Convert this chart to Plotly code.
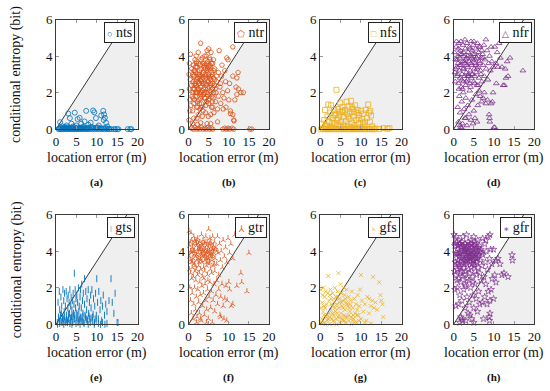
import plotly.graph_objects as go
from plotly.subplots import make_subplots

# ---------------- data (location error m, conditional entropy bit) ----------------
series_names = ["nts", "ntr", "nfs", "nfr", "gts", "gtr", "gfs", "gfr"]
panel_labels = ["(a)", "(b)", "(c)", "(d)", "(e)", "(f)", "(g)", "(h)"]
colors = ["#0072BD", "#D95319", "#EDB120", "#7E2F8E", "#0072BD", "#D95319", "#EDB120", "#7E2F8E"]
legend_glyphs = ["○", "⬠", "□", "△", "ǀ", "⅄", "×", "∗"]

x_ticks = [0, 5, 10, 15, 20]
y_ticks = [0, 2, 4, 6]
x_range = [0, 20]
y_range = [0, 6]
boundary_x_at_top = 17.4  # reference line reaches y=6 at this location error

nts = [(0.6,0),(0.8,0.05),(1.0,0),(1.2,0.08),(1.4,0),(1.6,0.04),(1.8,0),(2.0,0.08),(2.2,0),(2.4,0.05),
       (2.6,0),(2.8,0.1),(3.0,0),(3.2,0.05),(3.4,0),(3.6,0.08),(3.8,0),(4.0,0.05),(4.2,0),(4.4,0.1),
       (4.6,0),(4.8,0.05),(5.0,0),(5.2,0.08),(5.4,0),(5.6,0.04),(5.8,0),(6.0,0.08),(6.2,0),(6.4,0.05),
       (6.6,0),(6.8,0.1),(7.0,0),(7.2,0.05),(7.4,0),(7.6,0.08),(7.8,0),(8.0,0.05),(8.3,0),(8.6,0.08),
       (8.9,0),(9.2,0.05),(9.5,0),(9.8,0.08),(10.1,0),(10.4,0.05),(10.7,0),(11.0,0.06),(11.3,0),(11.6,0.04),
       (11.9,0),(12.2,0.05),(12.5,0),(12.8,0.03),(13.1,0),(13.5,0),(14.2,0),(14.6,0),(15.0,0),(15.3,0),
       (17.6,0),(18.2,0),(18.5,0),
       (1.0,0.38),(1.6,0.15),(2.2,0.12),(3.0,0.85),(3.4,0.6),(3.8,0.3),(4.6,0.9),(5.3,0.55),(5.8,0.62),
       (6.2,0.3),(7.0,0.42),(7.4,1.0),(7.9,0.25),(8.5,0.35),(9.1,1.02),(9.4,0.92),(9.8,0.6),(10.5,0.2),
       (11.1,0.75),(11.6,1.0),(11.8,0.8),(12.0,0.62),(11.7,0.5),(12.3,0.35),(12.6,0.15),(2.6,0.2),
       (4.2,0.15),(6.6,0.12),(8.8,0.12),(10.2,0.1),(5.0,0.2),(3.0,0.05)]

ntr = [(0.8,0.05),(1.2,0.0),(1.6,0.1),(2.0,0.0),(2.4,0.05),(2.8,0.0),(3.2,0.1),(3.6,0.0),(4.0,0.05),
       (4.4,0.0),(4.8,0.1),(5.2,0.0),(5.6,0.05),(6.0,0.0),(1.0,0.3),(2.2,0.25),(3.0,0.35),(4.6,0.3),
       (5.5,0.3),(8.5,0.0),(9.0,0.05),(9.4,0.0),(9.8,0.05),(10.2,0.0),(10.8,0.05),(11.2,0.0),(15.2,0.0),
       (15.7,0.0),(0.1,3.0),(0.2,2.2),(0.3,1.6),(0.2,3.6),(0.5,4.1),(0.4,2.7),(0.3,1.0),(0.1,0.5),
       (0.8,3.3),(1.0,2.0),(1.1,2.6),(1.2,3.5),(1.3,1.4),(1.4,2.9),(1.5,2.2),(1.6,3.8),(1.7,1.8),
       (1.8,3.1),(1.9,2.4),(2.0,1.2),(2.1,3.4),(2.2,2.0),(2.3,2.8),(2.4,0.8),(2.5,3.6),(2.6,1.6),
       (2.7,2.5),(2.8,3.0),(2.9,1.9),(3.0,4.7),(3.0,2.3),(3.1,3.3),(3.2,1.4),(3.3,2.7),(3.4,3.9),
       (3.5,2.1),(3.6,1.0),(3.7,3.1),(3.8,2.5),(3.9,1.7),(4.0,4.0),(4.0,3.5),(4.1,2.2),(4.2,2.9),
       (4.3,1.3),(4.4,4.0),(4.5,3.2),(4.6,2.0),(4.7,2.6),(4.8,3.7),(4.9,1.6),(5.0,4.4),(5.0,3.0),
       (5.1,2.3),(5.2,3.9),(5.3,1.9),(5.4,3.4),(5.5,2.7),(5.6,4.2),(5.7,1.2),(5.8,3.1),(5.9,2.2),
       (6.0,3.6),(6.1,1.7),(6.2,2.8),(6.3,0.9),(6.4,2.4),(6.5,3.3),(6.7,1.5),(6.8,2.0),(7.0,2.6),
       (7.2,1.1),(7.4,1.8),(7.6,4.3),(7.8,2.3),(8.0,1.4),(1.0,1.0),(1.2,1.7),(1.5,3.2),(1.8,2.6),
       (2.0,3.7),(2.2,1.5),(2.5,2.2),(2.7,3.2),(3.0,1.7),(3.2,2.6),(3.5,3.0),(3.8,1.9),(4.1,3.3),
       (4.4,2.4),(4.7,1.9),(5.0,2.6),(5.3,3.5),(5.6,2.4),(5.9,3.0),(6.2,2.0),(6.5,2.7),(0.7,2.4),
       (0.9,1.8),(1.1,3.0),(1.4,2.4),(1.7,2.0),(2.0,2.7),(2.3,2.2),(2.6,2.9),(2.9,3.5),(3.2,2.0),
       (3.5,2.5),(3.8,3.4),(4.1,1.7),(4.4,2.8),(4.7,3.3),(5.0,1.4),(5.3,2.1),(5.6,2.9),(5.9,1.5),
       (6.2,3.8),(0.6,1.3),(1.3,0.6),(2.1,0.6),(2.8,1.1),(3.4,0.7),(4.2,0.9),(4.9,0.7),(5.5,0.8),
       (6.0,1.2),(1.9,4.0),(2.4,4.2),(4.6,4.3),(5.3,3.8),(8.2,2.9),(8.5,2.0),(8.8,1.7),(9.0,3.2),
       (9.3,1.2),(9.5,3.9),(9.8,3.8),(9.7,2.1),(10.0,1.6),(10.2,2.5),(10.4,1.0),(11.0,4.5),(11.0,0.8),
       (11.2,0.5),(11.0,2.9),(11.5,1.6),(11.8,2.3),(12.0,2.8),(12.3,3.1),(12.4,2.2),(12.0,1.9),
       (13.0,2.0),(13.6,2.0),(7.4,3.1),(7.9,2.5),(8.3,3.5),(8.6,1.1),(9.2,2.6),(7.2,0.4),(10.4,0.85),
       (11.3,0.45),
       (1.1,2.2),(1.3,3.2),(1.6,2.5),(1.9,3.6),(2.1,2.3),(2.4,3.0),(2.6,2.0),(2.9,2.7),(3.1,3.8),
       (3.3,1.8),(3.6,2.8),(3.9,3.6),(4.2,2.5),(4.5,3.6),(4.8,2.2),(5.1,3.3),(5.4,2.5),(5.7,3.6),
       (6.0,2.5),(6.3,3.2),(1.5,1.6),(2.3,1.2),(3.3,1.2),(4.5,1.5),(5.8,1.8),(2.0,2.0),(3.0,2.9),
       (4.0,2.0),(5.0,3.4),(6.6,2.2),(1.2,2.9),(2.7,1.4),(3.7,2.2),(4.9,2.9),(5.2,2.8),(3.6,3.6),
       (2.4,2.6),(4.3,3.0),(1.7,3.4),(6.9,2.9)]

nfs = [(0.5,0.3),(1.0,0.5),(1.2,1.05),(1.5,0.2),(1.8,0.7),(2.0,1.35),(2.2,0.4),(2.5,0.9),(2.7,1.3),
       (2.9,0.15),(3.1,0.6),(3.4,1.05),(3.6,0.3),(3.8,0.8),(4.0,2.15),(4.1,0.5),(4.3,1.1),(4.5,0.2),
       (4.7,0.75),(4.9,1.45),(5.1,0.4),(5.3,0.95),(5.5,1.2),(5.7,0.25),(5.9,0.65),(6.1,1.05),(6.3,0.45),
       (6.5,1.5),(6.6,0.85),(6.8,0.15),(7.0,1.25),(7.2,0.55),(7.4,0.9),(7.6,1.55),(7.8,0.35),(8.0,1.1),
       (8.2,0.7),(8.4,0.2),(8.6,1.3),(8.8,0.5),(9.0,0.9),(9.2,1.05),(9.4,0.3),(9.6,0.75),(9.8,0.1),
       (10.0,1.0),(10.3,0.55),(10.6,0.85),(10.9,0.2),(11.2,1.05),(11.5,0.6),(11.8,1.35),(12.0,0.9),
       (12.2,0.4),(12.5,0.75),(12.8,0.15),(11.0,0.4),(3.0,0.35),(5.0,0.15),(7.5,0.1),(2.3,0.05),
       (6.0,0.1),(8.5,0.05),(1.3,0.15),(9.5,0.6),(4.8,0.95),(6.9,0.7),(3.5,0.75),(8.3,0.95),(10.5,0.35),
       (12.3,1.0),(7.8,1.2),(5.6,1.0),(4.4,0.6),
       (0.3,0),(0.7,0.02),(1.1,0),(1.5,0.03),(1.9,0),(2.3,0),(2.7,0.02),(3.1,0),(3.5,0),(3.9,0.02),
       (4.3,0),(4.7,0),(5.1,0.02),(5.5,0),(5.9,0),(6.3,0.02),(6.7,0),(7.1,0),(7.5,0.02),(7.9,0),(8.3,0),
       (8.7,0.02),(9.1,0),(9.5,0),(9.9,0.02),(10.3,0),(10.7,0),(11.1,0.02),(11.5,0),(11.9,0),(12.3,0.02),
       (12.7,0),(13.1,0),(13.6,0.03),(14.5,0),(15.5,0.05),(16.5,0.02),(17.0,0.05)]

nfr = [(0.2,4.2),(0.3,3.1),(0.4,2.6),(0.5,3.8),(0.6,4.5),(0.8,3.4),(0.9,2.9),(1.0,4.0),(1.1,3.6),
       (1.2,2.5),(1.3,4.7),(1.4,3.2),(1.5,3.9),(1.6,2.8),(1.7,4.3),(1.8,3.5),(1.9,2.3),(2.0,4.1),
       (2.1,3.0),(2.2,3.7),(2.3,4.6),(2.4,2.6),(2.5,3.3),(2.6,4.0),(2.7,2.9),(2.8,3.6),(2.9,4.4),
       (3.0,2.4),(3.1,3.1),(3.2,3.9),(3.3,4.7),(3.4,2.7),(3.5,3.4),(3.6,4.2),(3.7,3.0),(3.8,3.7),
       (3.9,4.5),(4.0,2.5),(4.1,3.2),(4.2,4.0),(4.3,4.8),(4.4,2.8),(4.5,3.5),(4.6,4.3),(4.7,3.0),
       (4.8,3.8),(4.9,4.6),(5.0,2.6),(5.1,3.3),(5.2,4.1),(5.3,2.9),(5.4,3.6),(5.5,4.4),(5.6,3.1),
       (5.7,3.9),(5.8,2.4),(5.9,4.7),(6.0,3.4),(6.2,4.2),(6.3,2.8),(6.4,3.7),(6.6,4.5),(6.7,3.2),
       (6.9,3.9),(7.0,2.6),(7.2,4.1),(7.3,3.5),(7.5,4.6),(7.6,2.9),(7.8,3.8),(8.0,4.9),(8.1,3.3),
       (8.3,4.3),(8.5,2.7),(8.7,3.6),(8.9,4.0),(9.1,3.2),(9.3,4.5),(9.5,3.7),(9.8,3.4),(10.2,4.5),
       (10.5,3.6),(10.8,4.2),(11.0,3.4),(11.3,4.7),(11.6,3.9),(12.0,3.4),(12.3,2.4),(12.6,2.4),
       (12.8,3.3),(13.0,2.8),(13.3,3.7),(14.0,3.9),(17.2,3.2),(13.5,2.9),
       (0.7,4.8),(1.2,4.4),(1.8,4.8),(2.3,3.3),(2.8,4.9),(3.3,3.5),(3.8,2.9),(4.3,3.6),(4.8,4.1),
       (5.3,3.8),(5.8,3.3),(6.3,4.5),(6.8,3.0),(7.3,3.9),(1.0,3.0),(1.5,3.5),(2.0,2.7),(2.5,4.2),
       (3.0,3.8),(3.5,2.9),(4.0,4.4),(4.5,3.0),(5.0,4.8),(5.5,3.5),(6.0,4.0),(6.5,3.6),(7.0,4.3),
       (0.5,3.3),(1.3,2.2),(2.2,2.2),(3.2,2.6),(4.2,2.3),(5.2,2.5),(6.1,2.4),(3.5,4.0),(4.6,3.9),
       (2.6,3.7),(1.6,4.1),(0.9,3.8),
       (1.0,1.2),(1.2,0.4),(1.4,1.8),(1.6,0.9),(1.8,0.1),(2.0,1.5),(2.2,0.3),(2.4,2.0),(2.6,1.1),
       (2.8,0.6),(3.0,1.7),(3.3,0.2),(3.5,1.3),(3.8,0.8),(4.0,2.1),(4.3,0.5),(4.5,1.6),(4.8,0.3),
       (5.0,1.0),(5.3,0.6),(5.5,1.9),(5.8,0.4),(6.0,1.3),(6.3,2.1),(6.6,1.8),(7.0,1.5),(7.3,1.7),
       (7.6,2.0),(8.0,1.4),(8.4,1.6),(8.8,0.8),(8.9,0.6),(9.0,0.4),(9.6,1.5),(9.3,1.4),(10.0,0.1),
       (10.2,0.1),(9.8,2.0),(10.6,2.5),(2.0,0.05),(1.6,0.2),(3.0,0.6)]

gts = [(0.3,0.1),(0.5,1.2),(0.6,0.4),(0.8,1.8),(0.9,0.8),(1.0,0.2),(1.2,1.5),(1.3,0.6),(1.4,1.0),
       (1.5,0.1),(1.7,1.9),(1.8,0.3),(1.9,1.3),(2.0,0.7),(2.1,1.7),(2.2,0.2),(2.3,1.0),(2.5,1.8),
       (2.6,0.5),(2.7,1.4),(2.8,0.1),(2.9,0.9),(3.0,1.6),(3.1,0.3),(3.2,1.2),(3.3,0.6),(3.4,1.9),
       (3.5,0.2),(3.6,1.0),(3.7,1.5),(3.8,0.4),(3.9,0.8),(4.0,1.3),(4.1,0.1),(4.2,1.7),(4.3,0.6),
       (4.4,1.1),(4.5,2.8),(4.6,0.3),(4.7,1.9),(4.8,0.9),(4.9,1.4),(5.0,0.2),(5.1,1.6),(5.2,0.5),
       (5.3,1.2),(5.4,0.1),(5.5,2.0),(5.6,0.7),(5.7,1.0),(5.8,0.3),(5.9,1.5),(6.0,1.9),(6.1,0.4),
       (6.2,0.9),(6.3,2.2),(6.4,0.2),(6.5,1.3),(6.6,0.6),(6.7,1.7),(6.8,0.1),(7.0,2.5),(7.0,1.1),
       (7.2,0.4),(7.3,1.8),(7.5,0.8),(7.6,1.4),(7.7,0.2),(7.9,1.9),(8.0,0.6),(8.2,1.2),(8.3,0.3),
       (8.5,1.6),(8.6,0.9),(8.8,1.9),(9.0,0.4),(9.2,1.4),(9.4,0.1),(9.5,1.0),(9.7,1.7),(9.9,0.5),
       (10.0,2.5),(10.2,1.2),(10.4,0.3),(10.5,1.8),(10.8,0.8),(11.0,1.3),(11.2,0.2),(11.4,1.0),
       (11.6,1.6),(11.9,0.5),(12.2,1.1),(12.5,0.7),(13.0,1.3),(13.5,2.5),(13.8,1.2),(14.2,0.6),
       (14.5,1.7),(15.0,0.1),(15.2,0.1),
       (0.4,0.0),(0.9,0.05),(1.4,0.15),(1.9,0.0),(2.4,0.1),(2.9,0.2),(3.4,0.05),(3.9,0.0),(4.4,0.25),
       (4.9,0.05),(5.4,0.3),(5.9,0.0),(6.4,0.15),(6.9,0.05),(7.4,0.25),(7.9,0.0),(8.4,0.1),(8.9,0.2),
       (9.4,0.0),(9.9,0.15),(10.4,0.05),(10.9,0.0),(11.4,0.1),(12.0,0.0),(12.5,0.05),(1.1,0.5),
       (2.1,0.4),(3.1,0.55),(4.1,0.45),(5.1,0.6),(6.1,0.35),(7.1,0.5),(8.1,0.45),(9.1,0.55),(0.7,0.3),
       (1.6,0.35),(2.6,0.25),(3.6,0.35),(4.6,0.5),(5.6,0.2),(6.6,0.45),(7.6,0.3),(8.6,0.35),(9.6,0.3)]

gtr = [(0.1,5.1),(0.3,4.3),(0.4,3.5),(0.5,2.8),(0.6,5.0),(0.7,3.9),(0.8,4.6),(0.9,3.1),(1.0,4.2),
       (1.1,3.6),(1.2,2.6),(1.3,4.8),(1.4,3.3),(1.5,4.0),(1.6,2.9),(1.7,4.5),(1.8,3.7),(1.9,3.0),
       (2.0,4.3),(2.1,3.5),(2.2,2.7),(2.3,4.7),(2.4,3.9),(2.5,3.2),(2.6,4.1),(2.7,2.8),(2.8,4.5),
       (2.9,3.6),(3.0,3.0),(3.1,4.2),(3.2,4.9),(3.3,3.4),(3.4,2.6),(3.5,4.0),(3.6,4.6),(3.7,3.1),
       (3.8,3.8),(3.9,4.4),(4.0,2.9),(4.1,3.5),(4.2,4.1),(4.3,4.8),(4.4,3.2),(4.5,3.9),(4.6,4.5),
       (4.7,2.7),(4.8,3.6),(4.9,4.2),(5.0,5.2),(5.1,3.3),(5.2,4.0),(5.3,4.7),(5.4,3.0),(5.5,3.7),
       (5.6,4.4),(5.7,2.8),(5.8,3.5),(5.9,4.1),(6.0,4.8),(6.1,3.2),(6.2,3.9),(6.4,4.5),(6.5,2.9),
       (6.6,3.6),(6.8,4.2),(7.0,3.3),(7.2,4.8),(7.3,3.9),(7.5,2.7),(7.7,4.4),(7.9,3.5),(8.1,4.0),
       (8.4,3.1),(8.6,4.6),(8.9,3.7),(9.2,4.2),(9.5,3.4),(9.8,4.7),(10.2,3.9),(10.5,4.4),(11.0,3.6),
       (11.5,4.9),(0.5,4.0),(1.0,3.4),(1.5,4.6),(2.0,3.8),(2.5,4.4),(3.0,3.5),(3.5,4.3),(4.0,3.7),
       (4.5,4.3),(5.0,3.6),(5.5,4.2),(6.0,3.8),(6.5,4.1),(7.0,4.0),(1.2,4.0),(2.2,4.1),(3.2,3.8),
       (4.2,3.8),(5.2,3.4),(6.2,4.3),(0.2,3.0),(0.8,2.5),(1.8,2.4),(2.8,2.3),(3.8,2.5),(4.8,2.4),
       (0.3,2.0),(0.5,1.3),(0.7,0.6),(0.9,1.7),(1.1,0.3),(1.3,1.1),(1.5,2.0),(1.7,0.8),(1.9,1.5),
       (2.1,0.4),(2.3,1.9),(2.5,1.2),(2.7,0.6),(2.9,1.6),(3.1,0.2),(3.3,2.1),(3.5,1.0),(3.7,1.7),
       (3.9,0.5),(4.1,2.2),(4.3,1.3),(4.5,0.8),(4.7,1.9),(4.9,0.3),(5.1,1.5),(5.3,2.3),(5.5,0.9),
       (5.7,1.8),(5.9,0.1),(6.1,1.3),(6.3,2.2),(6.5,0.7),(6.8,1.6),(7.0,2.4),(7.2,1.1),(7.5,1.9),
       (7.8,0.5),(8.0,1.5),(8.3,2.2),(8.6,1.0),(8.8,0.3),(9.0,1.4),(9.3,2.1),(9.6,1.3),(10.0,2.3),
       (10.2,1.9),(10.6,1.0),(11.0,1.1),(12.0,2.1),(13.0,2.8),(13.2,2.3),(14.5,1.8),(15.0,3.9),
       (9.5,0.2),(8.0,0.4),(4.5,0.1),(2.0,0.1),(3.0,0.3),
       (0.4,4.5),(0.9,4.0),(1.4,3.8),(1.9,4.4),(2.4,3.6),(2.9,4.1),(3.4,3.7),(3.9,4.0),(4.4,3.6),
       (4.9,3.9),(5.4,4.5),(5.9,3.7),(6.4,3.3),(1.1,4.4),(1.6,3.2),(2.1,4.6),(2.6,3.4),(3.1,3.9),
       (3.6,4.1),(4.1,4.5),(4.6,3.4),(5.1,4.4),(5.6,3.9),(6.1,4.1),(0.7,3.4),(2.7,4.2),(4.7,4.0),
       (3.3,4.4),(5.3,3.8),(0.3,3.7)]

gfs = [(0.2,1.9),(0.4,0.3),(0.5,1.2),(0.7,0.7),(0.8,2.0),(1.0,0.1),(1.1,1.5),(1.2,0.9),(1.4,1.8),
       (1.5,0.4),(1.6,1.1),(1.8,0.2),(1.9,1.7),(2.0,2.65),(2.1,0.6),(2.2,1.3),(2.4,0.0),(2.5,1.9),
       (2.6,0.8),(2.7,1.4),(2.9,0.3),(3.0,1.0),(3.1,1.7),(3.3,0.5),(3.4,1.2),(3.5,0.1),(3.6,2.0),
       (3.8,0.7),(3.9,1.5),(4.0,0.3),(4.1,1.1),(4.3,1.8),(4.4,0.4),(4.5,2.8),(4.6,0.9),(4.7,1.4),
       (4.9,0.1),(5.0,2.2),(5.1,0.6),(5.2,1.7),(5.4,1.0),(5.5,0.2),(5.6,1.3),(5.8,2.0),(5.9,0.5),
       (6.0,1.6),(6.1,0.8),(6.3,0.1),(6.4,1.2),(6.5,1.9),(6.7,0.4),(6.8,1.0),(7.0,1.5),(7.1,0.2),
       (7.3,0.7),(7.5,1.3),(7.7,0.0),(7.8,1.8),(8.0,0.9),(8.2,0.3),(8.4,1.4),(8.6,0.6),(8.8,1.1),
       (9.0,0.1),(9.2,1.6),(9.4,0.5),(9.6,1.0),(9.8,1.9),(10.0,2.7),(10.0,0.3),(10.3,1.3),(10.6,0.7),
       (11.0,1.1),(11.3,0.2),(11.6,1.5),(12.0,0.6),(12.4,1.0),(12.8,1.3),(13.0,2.6),(13.2,0.9),
       (13.6,1.2),(14.0,0.8),(14.5,2.3),(14.8,1.6),(15.0,1.3),(15.3,1.1),(15.5,0.4),(12.0,1.4),
       (11.0,0.1),(12.5,0.05),
       (0.3,0.9),(0.9,0.5),(1.3,0.0),(1.7,0.5),(2.3,0.4),(2.8,1.1),(3.2,0.2),(3.7,0.9),(4.2,0.6),
       (4.8,1.2),(5.3,0.3),(5.7,0.9),(6.2,0.4),(6.6,1.1),(7.2,0.9),(7.6,0.4),(8.1,0.5),(8.5,0.1),
       (9.1,0.8),(9.5,0.2),(1.0,1.0),(2.0,0.3),(3.0,0.6),(4.0,0.0),(5.0,0.4),(6.0,0.2),(7.0,0.5),
       (8.0,0.2),(9.0,0.5),(0.6,1.6),(2.4,1.6),(3.3,1.4),(4.3,1.5),(5.3,1.2),(6.2,1.4),(7.4,1.1),
       (0.1,0.1),(0.5,0.05)]

gfr = [(0.1,4.9),(0.3,4.3),(0.4,3.4),(0.5,2.7),(0.6,4.8),(0.7,3.8),(0.8,4.5),(0.9,3.0),(1.0,4.1),
       (1.1,3.5),(1.2,2.5),(1.3,4.6),(1.4,3.2),(1.5,3.9),(1.6,2.8),(1.7,4.4),(1.8,3.6),(1.9,2.9),
       (2.0,4.2),(2.1,3.4),(2.2,2.6),(2.3,4.8),(2.4,3.8),(2.5,3.1),(2.6,4.0),(2.7,2.7),(2.8,4.4),
       (2.9,3.5),(3.0,2.9),(3.1,4.1),(3.2,4.9),(3.3,3.3),(3.4,2.5),(3.5,3.9),(3.6,4.5),(3.7,3.0),
       (3.8,3.7),(3.9,4.3),(4.0,2.8),(4.1,3.4),(4.2,4.0),(4.3,4.6),(4.4,3.1),(4.5,3.8),(4.6,4.4),
       (4.7,2.6),(4.8,3.5),(4.9,4.1),(5.0,4.8),(5.1,3.2),(5.2,3.9),(5.3,4.5),(5.4,2.9),(5.5,3.6),
       (5.6,4.2),(5.7,2.7),(5.8,3.4),(5.9,4.0),(6.0,4.6),(6.1,3.1),(6.2,3.8),(6.4,4.3),(6.5,2.8),
       (6.6,3.5),(6.8,4.1),(7.0,3.2),(7.2,4.7),(7.3,3.8),(7.5,2.6),(7.7,4.4),(7.9,3.4),(8.1,4.0),
       (8.4,3.0),(8.6,4.8),(8.9,3.6),(9.2,4.1),(9.5,3.3),(9.9,4.1),(10.2,2.7),(10.5,3.5),(11.0,3.6),
       (11.5,3.3),(12.0,2.7),(12.5,2.8),(13.5,2.6),(14.5,3.8),(14.6,3.5),(0.5,3.9),(1.0,3.3),
       (1.5,4.4),(2.0,3.7),(2.5,4.3),(3.0,3.4),(3.5,4.2),(4.0,3.6),(4.5,4.2),(5.0,3.5),(5.5,4.1),
       (6.0,3.7),(6.5,4.0),(7.0,3.9),(1.2,3.9),(2.2,4.0),(3.2,3.7),(4.2,3.7),(5.2,3.3),(6.2,4.2),
       (0.2,2.9),(0.8,2.4),(1.8,2.3),(2.8,2.2),(3.8,2.4),(4.8,2.3),(9.0,4.9),(8.0,4.6),
       (0.3,1.9),(0.6,1.0),(0.9,2.0),(1.2,1.1),(1.5,1.6),(1.8,0.4),(2.0,1.3),(2.2,0.2),(2.5,1.9),
       (2.8,0.9),(3.0,2.1),(3.3,1.5),(3.6,0.6),(3.9,1.2),(4.2,2.0),(4.5,0.3),(4.8,1.6),(5.0,0.9),
       (5.3,2.2),(5.6,1.4),(5.9,0.7),(6.2,1.8),(6.5,1.1),(6.8,2.4),(7.1,1.2),(7.4,0.3),(7.7,1.5),
       (8.0,2.2),(8.3,1.1),(8.6,1.8),(8.8,0.4),(8.9,0.2),(9.0,1.3),(9.3,1.9),(9.6,2.5),(9.9,1.4),
       (1.5,0.1),(2.0,0.3),(3.0,0.2),(4.0,0.5),(5.0,0.1),(9.0,0.6),(10.5,2.3),
       (0.4,4.4),(0.9,3.9),(1.4,3.7),(1.9,4.3),(2.4,3.5),(2.9,4.0),(3.4,3.6),(3.9,3.9),(4.4,3.5),
       (4.9,3.8),(5.4,4.4),(5.9,3.6),(1.1,4.3),(1.6,3.1),(2.1,4.5),(2.6,3.3),(3.1,3.8),(3.6,4.0),
       (4.1,4.4),(4.6,3.3),(5.1,4.3),(5.6,3.8),(0.7,3.3),(2.7,4.1),(4.7,3.9),(3.3,4.3)]

series_data = [nts, ntr, nfs, nfr, gts, gtr, gfs, gfr]

# ---------------- styling ----------------
marker_styles = [
    dict(symbol="circle-open", size=5, line=dict(width=0.8)),
    dict(symbol="pentagon-open", size=5, line=dict(width=0.8)),
    dict(symbol="square-open", size=5, line=dict(width=0.8)),
    dict(symbol="triangle-up-open", size=5, line=dict(width=0.8)),
    dict(symbol="line-ns", size=5, line=dict(width=0.9)),
    dict(symbol="y-up", size=4.2, line=dict(width=0.8)),
    dict(symbol="x-thin", size=4, line=dict(width=0.8)),
    dict(symbol="star-open", size=5, line=dict(width=0.7)),
]

W, H = 550, 391
col_px = [(54, 137), (189, 271), (323, 406), (459, 541)]
row_px = [(13, 127), (216, 330)]
FONT = "Liberation Serif, DejaVu Serif, serif"

fig = make_subplots(rows=2, cols=4)

for i, (name, pts) in enumerate(zip(series_names, series_data)):
    r, c = divmod(i, 4)
    xs = [p[0] for p in pts]
    ys = [p[1] for p in pts]
    ms = dict(marker_styles[i])
    ms["color"] = colors[i]
    ms["line"] = dict(ms["line"], color=colors[i])
    fig.add_trace(go.Scatter(x=xs, y=ys, mode="markers", name=name, marker=ms,
                             cliponaxis=False, showlegend=False), row=r + 1, col=c + 1)

for i in range(8):
    r, c = divmod(i, 4)
    n = i + 1
    xa = "xaxis" if n == 1 else f"xaxis{n}"
    ya = "yaxis" if n == 1 else f"yaxis{n}"
    x0, x1 = col_px[c]
    y0, y1 = row_px[r]
    axis_common = dict(showline=True, linecolor="#3a3a3a", linewidth=1, mirror="ticks",
                       ticks="inside", ticklen=3, tickcolor="#9a9a9a", showgrid=False,
                       zeroline=False, tickfont=dict(family=FONT, size=13, color="#111"))
    fig.layout[xa].update(domain=[x0 / W, x1 / W], range=x_range, tickvals=x_ticks, **axis_common)
    fig.layout[ya].update(domain=[1 - y1 / H, 1 - y0 / H], range=y_range, tickvals=y_ticks, **axis_common)

    xr = "x" if n == 1 else f"x{n}"
    yr = "y" if n == 1 else f"y{n}"
    # shaded region right of the reference line
    fig.add_shape(type="path",
                  path=f"M {x_range[0]},{y_range[0]} L {boundary_x_at_top},{y_range[1]} "
                       f"L {x_range[1]},{y_range[1]} L {x_range[1]},{y_range[0]} Z",
                  xref=xr, yref=yr, fillcolor="#efefef", line=dict(width=0), layer="below")
    fig.add_shape(type="line", x0=x_range[0], y0=y_range[0], x1=boundary_x_at_top, y1=y_range[1],
                  xref=xr, yref=yr, line=dict(color="#222", width=0.9), layer="below")

    # legend box
    fig.add_annotation(
        text=f"<span style='color:{colors[i]};font-size:9px'>{legend_glyphs[i]}</span> {series_names[i]}",
        xref=f"{xr} domain", yref=f"{yr} domain", x=0.975, y=0.975,
        xanchor="right", yanchor="top", showarrow=False,
        font=dict(family=FONT, size=14, color="#111"),
        bgcolor="white", bordercolor="#222", borderwidth=1, borderpad=2)

    # x title
    cx = (x0 + x1) / 2 / W
    fig.add_annotation(text="location error (m)", xref="paper", yref="paper",
                       x=cx, y=1 - (y1 + 30) / H, xanchor="center", yanchor="middle",
                       showarrow=False, font=dict(family=FONT, size=14, color="#111"))
    # panel label
    fig.add_annotation(text=f"<b>{panel_labels[i]}</b>", xref="paper", yref="paper",
                       x=cx, y=1 - (y1 + 55) / H, xanchor="center", yanchor="middle",
                       showarrow=False, font=dict(family=FONT, size=11, color="#111"))

for r in range(2):
    y0, y1 = row_px[r]
    fig.add_annotation(text="conditional entropy (bit)", xref="paper", yref="paper",
                       x=14 / W, y=1 - (y0 + y1) / 2 / H, xanchor="center", yanchor="middle",
                       textangle=-90, showarrow=False, font=dict(family=FONT, size=14, color="#111"))

fig.update_layout(width=W, height=H, margin=dict(l=0, r=0, t=0, b=0),
                  paper_bgcolor="white", plot_bgcolor="white", showlegend=False)

fig.write_html("out.html", config={"displayModeBar": False},
               post_script="document.body.style.margin='0';")
